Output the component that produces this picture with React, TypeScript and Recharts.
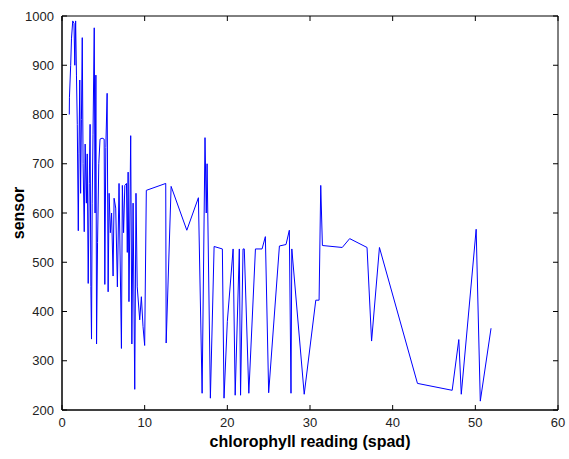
import { LineChart, Line, XAxis, YAxis, ReferenceArea } from "recharts";

// chlorophyll reading (spad) -> sensor value
const spad = [
  0.88, 0.9, 1.05, 1.15, 1.3, 1.45, 1.55, 1.65, 1.75, 1.85, 1.97, 2.05, 2.15, 2.25, 2.35, 2.45,
  2.55, 2.69, 2.8, 2.95, 3.05, 3.17, 3.3, 3.4, 3.49, 3.57, 3.65, 3.75, 3.9, 4.0, 4.1, 4.18,
  4.3, 4.45, 4.6, 4.85, 5.1, 5.18, 5.3, 5.46, 5.58, 5.7, 5.85, 6.0, 6.18, 6.3, 6.5, 6.7,
  6.9, 7.19, 7.3, 7.45, 7.6, 7.8, 7.9, 8.0, 8.1, 8.31, 8.45, 8.6, 8.8, 8.95, 9.1, 9.4,
  9.6, 9.8, 10.0, 10.2, 12.55, 12.6, 13.2, 15.1, 16.5, 16.95, 17.3, 17.45, 17.55, 17.95,
  18.4, 19.4, 19.6, 20.0, 20.7, 20.95, 21.45, 21.6, 21.9, 22.05, 22.6, 23.4, 24.2, 24.6,
  25.0, 26.3, 27.1, 27.5, 27.7, 27.8, 29.3, 30.7, 31.1, 31.3, 31.5, 33.9, 34.8, 36.9,
  37.45, 38.4, 43.0, 47.2, 48.0, 48.3, 50.1, 50.6, 51.9,
];
const sensor = [
  800, 835, 900, 955, 990, 985, 900, 990, 880, 780, 564, 720, 870, 640, 790, 956,
  700, 562, 740, 620, 720, 457, 660, 780, 451, 344, 620, 760, 976, 600, 880, 334,
  540, 700, 750, 752, 750, 455, 733, 843, 440, 640, 560, 600, 472, 630, 610, 450,
  660, 325, 656, 560, 656, 660, 520, 683, 420, 757, 334, 620, 242, 640, 450, 383,
  430, 370, 331, 646, 660, 336, 654, 565, 631, 234, 753, 600, 700, 224,
  532, 527, 224, 380, 527, 230, 527, 230, 527, 527, 234, 527, 527, 552,
  235, 533, 536, 565, 234, 527, 232, 423, 423, 656, 534, 530, 548, 530,
  340, 530, 254, 240, 343, 232, 567, 218, 366,
];
const xTicks = [0, 10, 20, 30, 40, 50, 60];
const yTicks = [200, 300, 400, 500, 600, 700, 800, 900, 1000];

const data = spad.map((x, i) => ({ x, y: sensor[i] }));

const PLOT_TOP = 16;
const PLOT_BOTTOM = 410;
const PLOT_LEFT = 62;
const PLOT_RIGHT = 558;
const TICK_LEN = 5;
const FONT = "'Liberation Sans', Arial, sans-serif";

const BottomTick = (props: any) => {
  const { x, payload } = props;
  return (
    <g>
      <line x1={x} y1={PLOT_BOTTOM} x2={x} y2={PLOT_BOTTOM - TICK_LEN} stroke="#000" />
      <line x1={x} y1={PLOT_TOP} x2={x} y2={PLOT_TOP + TICK_LEN} stroke="#000" />
      <text x={x} y={PLOT_BOTTOM + 17} textAnchor="middle" fontSize={13} fontFamily={FONT} fill="#222">
        {payload.value}
      </text>
    </g>
  );
};

const LeftTick = (props: any) => {
  const { y, payload } = props;
  return (
    <g>
      <line x1={PLOT_LEFT} y1={y} x2={PLOT_LEFT + TICK_LEN} y2={y} stroke="#000" />
      <line x1={PLOT_RIGHT} y1={y} x2={PLOT_RIGHT - TICK_LEN} y2={y} stroke="#000" />
      <text x={PLOT_LEFT - 8} y={y} dy="0.35em" textAnchor="end" fontSize={13} fontFamily={FONT} fill="#222">
        {payload.value}
      </text>
    </g>
  );
};

export default function App() {
  return (
    <div style={{ position: "absolute", left: 0, top: 0, background: "#fff" }}>
      <LineChart
        width={569}
        height={459}
        data={data}
        margin={{ top: PLOT_TOP, right: 569 - PLOT_RIGHT, bottom: 0, left: 0 }}
      >
        <XAxis
          dataKey="x"
          type="number"
          domain={[0, 60]}
          ticks={xTicks}
          height={459 - PLOT_BOTTOM}
          tickLine={false}
          tickSize={0}
          axisLine={{ stroke: "#000" }}
          tick={<BottomTick />}
          interval={0}
          label={{
            value: "chlorophyll reading (spad)",
            position: "insideBottom",
            offset: 12,
            style: { fontFamily: FONT, fontWeight: "bold", fontSize: 16, fill: "#000" },
          }}
        />
        <YAxis
          type="number"
          domain={[200, 1000]}
          ticks={yTicks}
          width={PLOT_LEFT}
          tickLine={false}
          tickSize={0}
          axisLine={{ stroke: "#000" }}
          tick={<LeftTick />}
          interval={0}
          label={{
            value: "sensor",
            angle: -90,
            position: "insideLeft",
            offset: 18,
            style: { textAnchor: "middle", fontFamily: FONT, fontWeight: "bold", fontSize: 16, fill: "#000" },
          }}
        />
        <ReferenceArea x1={0} x2={60} y1={200} y2={1000} fill="none" stroke="#000" strokeOpacity={1} fillOpacity={0} />
        <Line
          type="linear"
          dataKey="y"
          stroke="#0000ff"
          strokeWidth={1}
          dot={false}
          isAnimationActive={false}
        />
      </LineChart>
    </div>
  );
}
